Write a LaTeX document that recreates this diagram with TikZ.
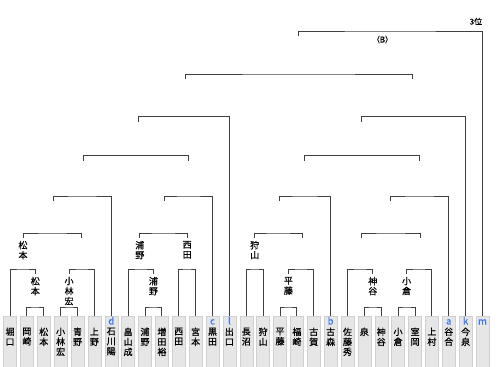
\documentclass[tikz,border=0pt]{standalone}
\usepackage{fontspec}
\setmainfont{Noto Sans CJK JP}[FakeBold=0.5]
\usetikzlibrary{positioning}
\definecolor{lineg}{HTML}{404040}
\definecolor{boxg}{HTML}{E6E6E6}
\definecolor{boxb}{HTML}{D0D0D0}
\definecolor{letb}{HTML}{3C78F0}
\tikzset{
	pbox/.style={draw=boxb,fill=boxg,minimum width=13pt,minimum height=52pt,anchor=north,inner sep=0pt},
	pname/.style={anchor=north,align=center,inner sep=0pt,font=\fontsize{9}{10}\selectfont},
	plet/.style={anchor=base,text=letb,inner sep=0pt,font=\fontsize{9.5}{10}\selectfont},
	wname/.style={anchor=north,align=center,inner xsep=0pt,inner ysep=3pt,outer sep=0pt,font=\fontsize{9}{10}\selectfont},
	bracket/.style={draw=lineg,line width=1pt},
}

\begin{document}
\begin{tikzpicture}[x=1pt,y=-1pt]
	\useasboundingbox (0,0) rectangle (499,367);

	\foreach \i in {0,...,28}
		\node[pbox] (b\i) at ({10+16.875*\i},316) {};
	\foreach \nm [count=\i from 0] in {{堀\\口},{岡\\崎},{松\\本},{小\\林\\宏},{青\\野},{上\\野},{石\\川\\陽},{畠\\山\\成},{浦\\野},{増\\田\\裕},{西\\田},{宮\\本},{黒\\田},{出\\口},{長\\沼},{狩\\山},{平\\藤},{福\\崎},{古\\賀},{古\\森},{佐\\藤\\秀},{泉},{神\\谷},{小\\倉},{室\\岡},{上\\村},{谷\\合},{今\\泉}}
		\node[pname] (n\i) at ({10+16.875*\i},327.5) {\nm};
	\foreach \i/\lt in {6/d,12/c,13/l,19/b,26/a,27/k,28/m}
		\node[plet] (t\i) at ({10+16.875*\i},324.5) {\lt};

	\coordinate (A1) at (35.3,307);
	\coordinate (A2) at (69.1,307);
	\coordinate (A3) at (153.4,307);
	\coordinate (A4) at (288.4,307);
	\coordinate (A5) at (372.8,307);
	\coordinate (A6) at (406.6,307);
	\node[wname] (A1w) at (35.3,274) {松\\本};
	\node[wname] (A2w) at (69.1,274) {小\\林\\宏};
	\node[wname] (A3w) at (153.4,274) {浦\\野};
	\node[wname] (A4w) at (288.4,274) {平\\藤};
	\node[wname] (A5w) at (372.8,274) {神\\谷};
	\node[wname] (A6w) at (406.6,274) {小\\倉};

	\coordinate (B1) at (22.7,269);
	\coordinate (B2) at (81.7,269);
	\coordinate (B3) at (140.8,269);
	\coordinate (B4) at (187.2,269);
	\coordinate (B5) at (254.7,269);
	\coordinate (B6) at (301.1,269);
	\coordinate (B7) at (360.2,269);
	\coordinate (B8) at (419.2,269);
	\node[wname] (B1w) at (23,238) {松\\本};
	\coordinate (B2w) at (81.7,238);
	\node[wname] (B3w) at (139.8,238) {浦\\野};
	\node[wname] (B4w) at (187.2,238) {西\\田};
	\node[wname] (B5w) at (254.7,238) {狩\\山};
	\coordinate (B6w) at (302,238);
	\coordinate (B7w) at (361,238);
	\coordinate (B8w) at (420,238);

	\coordinate (C1) at (52.3,233);
	\coordinate (C2) at (163.5,233);
	\coordinate (C3) at (278,233);
	\coordinate (C4) at (390.5,233);
	\coordinate (C1w) at (53,201);
	\coordinate (C2w) at (164.5,201);
	\coordinate (C3w) at (279,201);
	\coordinate (C4w) at (390.7,201);

	\coordinate (D1) at (82,196);
	\coordinate (D2) at (188.5,196);
	\coordinate (D3) at (305,196);
	\coordinate (D4) at (419.7,196);
	\coordinate (D1w) at (83.3,160.5);
	\coordinate (D2w) at (188.7,160.5);
	\coordinate (D3w) at (304,160.5);
	\coordinate (D4w) at (419.5,160.5);

	\coordinate (E1) at (136,155.5);
	\coordinate (E2) at (361.8,155.5);
	\coordinate (E1w) at (138.3,121.5);
	\coordinate (E2w) at (361.7,121.5);

	\coordinate (F1) at (184,116.5);
	\coordinate (F2) at (413.7,116.5);
	\coordinate (F1w) at (185,79);
	\coordinate (F2w) at (412.5,79);

	\coordinate (G) at (298.8,74);
	\coordinate (Gw) at (298.3,36);
	\coordinate (H) at (390,31);

	\begin{scope}[bracket]
	\draw (b1) |- (A1) -| (b2);
	\draw (b3) |- (A2) -| (b4);
	\draw (b8) |- (A3) -| (b9);
	\draw (b16) |- (A4) -| (b17);
	\draw (b21) |- (A5) -| (b22);
	\draw (b23) |- (A6) -| (b24);

	\draw (b0) |- (B1) -| (A1w);
	\draw (A2w) |- (B2) -| (b5);
	\draw (b7) |- (B3) -| (A3w);
	\draw (b10) |- (B4) -| (b11);
	\draw (b14) |- (B5) -| (b15);
	\draw (A4w) |- (B6) -| (b18);
	\draw (b20) |- (B7) -| (A5w);
	\draw (A6w) |- (B8) -| (b25);

	\draw (B1w) |- (C1) -| (B2w);
	\draw (B3w) |- (C2) -| (B4w);
	\draw (B5w) |- (C3) -| (B6w);
	\draw (B7w) |- (C4) -| (B8w);

	\draw (C1w) |- (D1) -| (b6);
	\draw (C2w) |- (D2) -| (b12);
	\draw (C3w) |- (D3) -| (b19);
	\draw (C4w) |- (D4) -| (b26);

	\draw (D1w) |- (E1) -| (D2w);
	\draw (D3w) |- (E2) -| (D4w);

	\draw (E1w) |- (F1) -| (b13);
	\draw (E2w) |- (F2) -| (b27);

	\draw (F1w) |- (G) -| (F2w);
	\draw (Gw) |- (H) -| (b28);
	\end{scope}

	\node[font=\fontsize{8}{9}\selectfont,inner sep=0pt] (pb) at (382.5,39.5) {（B）};
	\node[font=\fontsize{8}{9}\selectfont,inner sep=0pt] (p3) at (476,21.5) {3位};
\end{tikzpicture}
\end{document}
